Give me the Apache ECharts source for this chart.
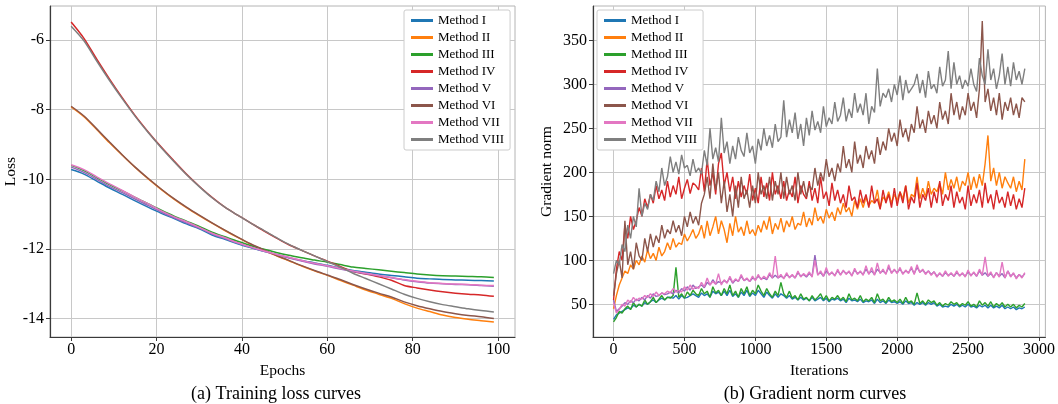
<!DOCTYPE html>
<html lang="en">
<head>
<meta charset="UTF-8">
<title>Training loss and gradient norm</title>
<style>html,body{margin:0;padding:0;background:#fff}</style>
</head>
<body>
<div id="main" style="width:1058px;height:404px"></div>
<script src="https://cdn.jsdelivr.net/npm/echarts@6/dist/echarts.min.js"></script>
<script>
var methods = ['Method I', 'Method II', 'Method III', 'Method IV', 'Method V', 'Method VI', 'Method VII', 'Method VIII'];
var colors = ['#1f77b4', '#ff7f0e', '#2ca02c', '#d62728', '#9467bd', '#8c564b', '#e377c2', '#7f7f7f'];

// (a) training loss, sampled every 3 epochs
var epochs = [0, 3, 6, 9, 12, 15, 18, 21, 24, 27, 30, 33, 36, 39, 42, 45, 48, 51, 54, 57, 60, 63, 66, 69, 72, 75, 78, 81, 84, 87, 90, 93, 96, 99];
var lossI = [-9.72, -9.85, -10.05, -10.25, -10.43, -10.62, -10.8, -10.97, -11.12, -11.28, -11.42, -11.6, -11.72, -11.85, -11.96, -12.06, -12.16, -12.25, -12.33, -12.4, -12.47, -12.55, -12.62, -12.67, -12.72, -12.76, -12.8, -12.84, -12.86, -12.88, -12.89, -12.9, -12.91, -12.92];
var lossII = [-7.92, -8.2, -8.57, -8.95, -9.31, -9.66, -9.98, -10.28, -10.56, -10.81, -11.04, -11.26, -11.47, -11.67, -11.86, -12.03, -12.19, -12.34, -12.49, -12.63, -12.76, -12.9, -13.04, -13.18, -13.3, -13.42, -13.57, -13.7, -13.8, -13.9, -13.97, -14.02, -14.06, -14.1];
var lossIII = [-9.6, -9.75, -9.95, -10.15, -10.33, -10.52, -10.7, -10.88, -11.05, -11.2, -11.35, -11.52, -11.65, -11.78, -11.9, -12.0, -12.1, -12.18, -12.25, -12.32, -12.38, -12.45, -12.52, -12.56, -12.6, -12.64, -12.68, -12.72, -12.75, -12.77, -12.78, -12.79, -12.8, -12.82];
var lossIV = [-5.48, -5.95, -6.55, -7.12, -7.66, -8.17, -8.63, -9.06, -9.46, -9.85, -10.2, -10.52, -10.8, -11.03, -11.25, -11.47, -11.68, -11.88, -12.04, -12.2, -12.35, -12.5, -12.65, -12.72, -12.8, -12.9, -13.05, -13.12, -13.18, -13.23, -13.27, -13.3, -13.32, -13.36];
var lossV = [-9.65, -9.8, -10.0, -10.2, -10.38, -10.57, -10.75, -10.93, -11.1, -11.25, -11.4, -11.57, -11.7, -11.83, -11.95, -12.06, -12.16, -12.26, -12.35, -12.43, -12.5, -12.58, -12.65, -12.71, -12.77, -12.83, -12.89, -12.94, -12.98, -13.0, -13.02, -13.03, -13.05, -13.07];
var lossVI = [-7.9, -8.18, -8.55, -8.93, -9.3, -9.65, -9.97, -10.27, -10.55, -10.8, -11.03, -11.25, -11.46, -11.66, -11.85, -12.02, -12.18, -12.33, -12.48, -12.62, -12.75, -12.88, -13.02, -13.15, -13.27, -13.38, -13.52, -13.63, -13.72, -13.8, -13.86, -13.91, -13.95, -14.0];
var lossVII = [-9.58, -9.72, -9.93, -10.13, -10.32, -10.52, -10.7, -10.9, -11.07, -11.22, -11.38, -11.55, -11.68, -11.82, -11.94, -12.05, -12.15, -12.24, -12.33, -12.41, -12.48, -12.56, -12.63, -12.7, -12.76, -12.82, -12.88, -12.93, -12.97, -12.99, -13.01, -13.02, -13.04, -13.05];
var lossVIII = [-5.6, -6.02, -6.6, -7.16, -7.69, -8.19, -8.65, -9.08, -9.48, -9.86, -10.21, -10.53, -10.8, -11.03, -11.25, -11.46, -11.67, -11.87, -12.04, -12.2, -12.36, -12.52, -12.7, -12.85, -13.0, -13.15, -13.3, -13.42, -13.52, -13.6, -13.66, -13.72, -13.77, -13.81];

// (b) gradient norm, sampled every 20 iterations
var iterations = [0, 20, 40, 60, 80, 100, 120, 140, 160, 180, 200, 220, 240, 260, 280, 300, 320, 340, 360, 380,
  400, 420, 440, 460, 480, 500, 520, 540, 560, 580, 600, 620, 640, 660, 680, 700, 720, 740, 760, 780,
  800, 820, 840, 860, 880, 900, 920, 940, 960, 980, 1000, 1020, 1040, 1060, 1080, 1100, 1120, 1140, 1160, 1180,
  1200, 1220, 1240, 1260, 1280, 1300, 1320, 1340, 1360, 1380, 1400, 1420, 1440, 1460, 1480, 1500, 1520, 1540, 1560, 1580,
  1600, 1620, 1640, 1660, 1680, 1700, 1720, 1740, 1760, 1780, 1800, 1820, 1840, 1860, 1880, 1900, 1920, 1940, 1960, 1980,
  2000, 2020, 2040, 2060, 2080, 2100, 2120, 2140, 2160, 2180, 2200, 2220, 2240, 2260, 2280, 2300, 2320, 2340, 2360, 2380,
  2400, 2420, 2440, 2460, 2480, 2500, 2520, 2540, 2560, 2580, 2600, 2620, 2640, 2660, 2680, 2700, 2720, 2740, 2760, 2780,
  2800, 2820, 2840, 2860, 2880, 2900];
var gradI = [33, 38, 40, 42, 44, 46, 45, 49, 47, 50,
  48, 52, 50, 53, 55, 52, 55, 57, 55, 58,
  58, 57, 60, 56, 60, 57, 58, 60, 62, 60,
  58, 63, 60, 62, 58, 65, 62, 64, 60, 65,
  60, 66, 59, 62, 58, 64, 60, 66, 59, 63,
  60, 66, 62, 58, 64, 60, 57, 62, 58, 62,
  60, 57, 60, 56, 58, 55, 58, 55, 57, 54,
  58, 54, 56, 58, 54, 57, 53, 56, 55, 57,
  54, 56, 52, 57, 54, 55, 53, 56, 52, 54,
  53, 55, 51, 56, 52, 54, 51, 55, 52, 53,
  51, 53, 50, 54, 51, 52, 49, 52, 50, 52,
  49, 52, 50, 52, 48, 50, 47, 48, 47, 50,
  48, 50, 47, 49, 47, 50, 47, 48, 46, 49,
  47, 49, 46, 49, 46, 48, 46, 49, 45, 47,
  45, 47, 44, 46, 45, 47];
var gradII = [45, 60, 72, 80, 88, 85, 95, 90, 100, 95,
  105, 98, 112, 102, 108, 100, 115, 105, 110, 120,
  112, 125, 115, 120, 118, 130, 122, 128, 135, 125,
  130, 140, 125, 145, 128, 138, 150, 130, 145, 135,
  120, 142, 128, 150, 132, 138, 128, 145, 130, 135,
  128, 140, 132, 145, 135, 150, 130, 142, 135, 148,
  132, 145, 138, 150, 135, 142, 140, 155, 138, 148,
  140, 160, 145, 150, 142, 158, 148, 155, 145, 160,
  152, 165, 155, 160, 150, 168, 158, 170, 160, 172,
  162, 168, 165, 180, 160, 172, 168, 178, 165, 175,
  168, 178, 170, 185, 165, 175, 172, 195, 170, 182,
  172, 190, 175, 182, 178, 188, 175, 200, 180, 192,
  182, 195, 178, 190, 185, 200, 180, 195, 182, 198,
  185, 210, 242, 190, 205, 185, 200, 182, 195, 188,
  182, 195, 178, 190, 180, 215];
var gradIII = [30, 35, 42, 40, 45, 48, 44, 52, 47, 50,
  48, 55, 50, 53, 58, 52, 56, 60, 55, 58,
  57, 60, 92, 58, 62, 57, 64, 60, 66, 62,
  60, 68, 62, 65, 58, 70, 63, 66, 60, 68,
  62, 72, 60, 65, 58, 68, 62, 70, 60, 66,
  62, 72, 65, 60, 68, 62, 58, 65, 60, 75,
  62, 58, 65, 57, 60, 55, 62, 56, 58, 54,
  60, 55, 58, 62, 55, 60, 54, 58, 56, 60,
  55, 58, 53, 62, 55, 57, 54, 60, 53, 56,
  54, 58, 52, 62, 54, 56, 52, 58, 53, 55,
  52, 56, 51, 58, 52, 54, 50, 63, 51, 54,
  50, 55, 52, 54, 49, 52, 48, 51, 49, 53,
  50, 52, 48, 51, 49, 53, 48, 50, 47, 54,
  49, 52, 48, 53, 47, 51, 48, 52, 47, 50,
  47, 50, 46, 49, 47, 51];
var gradIV = [55, 90, 110, 100, 140, 125, 150, 135, 145, 160,
  150, 170, 160, 175, 165, 185, 170, 180, 168, 190,
  172, 185, 175, 195, 170, 182, 192, 176, 188, 185,
  180, 205, 178, 215, 185, 200, 175, 210, 222, 185,
  200, 178, 195, 170, 190, 172, 185, 175, 198, 168,
  182, 165, 195, 172, 188, 168, 200, 175, 185, 170,
  190, 168, 180, 172, 195, 165, 185, 175, 170, 190,
  168, 182, 165, 195, 170, 178, 162, 188, 168, 180,
  165, 175, 160, 185, 168, 172, 160, 180, 165, 175,
  160, 185, 165, 170, 158, 180, 165, 175, 160, 182,
  162, 178, 165, 185, 158, 172, 165, 188, 160, 175,
  168, 182, 160, 178, 165, 190, 162, 175, 168, 185,
  160, 178, 165, 172, 158, 185, 162, 175, 165, 180,
  160, 188, 165, 175, 158, 180, 165, 172, 160, 178,
  162, 175, 158, 170, 160, 182];
var gradV = [55, 42, 45, 48, 52, 50, 54, 52, 56, 54,
  58, 55, 60, 57, 62, 59, 60, 63, 61, 62,
  64, 62, 66, 63, 68, 65, 70, 66, 72, 68,
  70, 72, 69, 75, 72, 78, 73, 76, 74, 77,
  75, 80, 74, 78, 76, 82, 77, 79, 76, 80,
  78, 82, 79, 80, 78, 84, 80, 83, 80, 82,
  80, 84, 81, 83, 80, 86, 82, 84, 81, 85,
  82, 106, 84, 86, 82, 88, 84, 86, 83, 88,
  84, 88, 85, 87, 83, 89, 85, 87, 84, 90,
  85, 88, 84, 90, 86, 88, 85, 92, 86, 89,
  86, 90, 85, 88, 86, 91, 85, 92, 87, 89,
  85, 88, 84, 87, 82, 85, 82, 86, 83, 85,
  82, 86, 83, 85, 82, 87, 83, 86, 82, 88,
  83, 86, 82, 85, 81, 86, 82, 85, 80, 88,
  82, 85, 80, 84, 81, 85];
var gradVI = [60, 85, 100, 80, 145, 95, 110, 90, 120, 105,
  100, 125, 110, 130, 115, 128, 120, 140, 125, 135,
  130, 145, 132, 140, 128, 150, 138, 155, 142, 150,
  140, 165, 175, 195, 170, 210, 180, 200, 165, 190,
  155, 175, 150, 185, 160, 195, 170, 180, 160, 185,
  165, 200, 175, 185, 170, 195, 168, 190, 175, 200,
  170, 195, 175, 185, 168, 200, 175, 190, 172, 185,
  180, 205, 185, 200, 190, 215, 195, 205, 190, 210,
  200, 230, 205, 215, 200, 235, 210, 220, 205, 230,
  215, 225, 210, 240, 220, 235, 225, 250, 235, 245,
  230, 260, 240, 250, 235, 255, 245, 275, 250, 260,
  245, 270, 255, 265, 250, 280, 260, 270, 255, 290,
  265, 280, 260, 275, 265, 290, 270, 280, 262, 295,
  372, 280, 295, 270, 285, 265, 290, 260, 280, 270,
  285, 265, 278, 262, 285, 280];
var gradVII = [52, 40, 44, 50, 48, 55, 52, 58, 54, 57,
  56, 60, 58, 62, 59, 64, 60, 63, 62, 65,
  63, 68, 64, 66, 64, 70, 66, 72, 67, 70,
  68, 75, 70, 80, 72, 76, 73, 85, 72, 78,
  74, 82, 75, 79, 76, 84, 77, 80, 76, 82,
  77, 84, 78, 82, 79, 86, 80, 105, 80, 84,
  79, 86, 80, 84, 80, 88, 81, 85, 82, 87,
  81, 100, 83, 88, 82, 92, 83, 87, 82, 90,
  83, 89, 84, 88, 82, 91, 84, 88, 83, 94,
  84, 92, 83, 97, 85, 90, 84, 95, 85, 90,
  85, 92, 84, 89, 85, 93, 84, 95, 86, 90,
  84, 88, 83, 87, 81, 86, 82, 88, 82, 86,
  82, 88, 82, 86, 81, 89, 82, 87, 82, 90,
  83, 104, 82, 87, 80, 86, 81, 98, 80, 88,
  81, 86, 79, 84, 80, 86];
var gradVIII = [85, 100, 95, 118, 110, 140, 125, 150, 138, 182,
  150, 165, 158, 175, 168, 190, 178, 205, 185, 195,
  218, 200, 212, 198, 220, 205, 208, 196, 215, 200,
  205, 198, 225, 208, 250, 215, 228, 212, 262, 222,
  235, 210, 230, 215, 240, 225, 218, 245, 222, 230,
  210, 238, 225, 250, 230, 242, 228, 255, 235, 240,
  282, 240, 260, 245, 268, 238, 255, 230, 262, 242,
  270, 248, 258, 245, 275, 252, 262, 255, 280, 258,
  265, 285, 258, 272, 262, 290, 268, 278, 265, 290,
  255, 275, 268, 318, 275, 290, 285, 295, 280, 300,
  288, 310, 282, 305, 290, 295, 300, 312, 290, 305,
  285, 315, 295, 300, 290, 320, 298, 305, 338, 295,
  325, 300, 310, 295, 305, 298, 318, 300, 292, 330,
  310, 300, 340, 305, 318, 295, 310, 335, 300, 320,
  298, 325, 305, 315, 300, 318];

var epochTicks = [0, 20, 40, 60, 80, 100];
var lossTicks = [-14, -12, -10, -8, -6];
var iterTicks = [0, 500, 1000, 1500, 2000, 2500, 3000];
var gradTicks = [50, 100, 150, 200, 250, 300, 350];

var lossData = [lossI, lossII, lossIII, lossIV, lossV, lossVI, lossVII, lossVIII];
var gradData = [gradI, gradII, gradIII, gradIV, gradV, gradVI, gradVII, gradVIII];

var serif = '"Liberation Serif", "DejaVu Serif", serif';

function makeAxis(gridIndex, min, max, ticks, name, nameGap, isY) {
    return {
        type: 'value',
        gridIndex: gridIndex,
        min: min,
        max: max,
        name: name,
        nameLocation: 'middle',
        nameGap: nameGap,
        nameTextStyle: { fontFamily: serif, fontSize: 15.5, color: '#000' },
        axisLine: { show: true, onZero: false, lineStyle: { color: '#3a3a3a', width: 1.2 } },
        axisTick: { show: true, inside: false, length: 4, customValues: ticks, lineStyle: { color: '#3a3a3a', width: 1 } },
        axisLabel: {
            customValues: ticks,
            formatter: function (v) { return String(v); },
            fontFamily: serif, fontSize: 16, color: '#000', margin: isY ? 6 : 5
        },
        splitLine: { show: true, lineStyle: { color: '#c8c8c8', width: 1 } }
    };
}

function makeLegend(left) {
    return {
        data: methods,
        orient: 'vertical',
        left: left,
        top: 10,
        icon: 'rect',
        itemWidth: 22,
        itemHeight: 3,
        itemGap: 2,
        itemTextGap: 5,
        padding: [3, 6, 3, 7],
        backgroundColor: '#fff',
        borderColor: '#cccccc',
        borderWidth: 1,
        borderRadius: 2,
        textStyle: { fontFamily: serif, fontSize: 13, color: '#000', lineHeight: 15 }
    };
}

var series = [];
methods.forEach(function (m, i) {
    series.push({
        name: m,
        type: 'line',
        xAxisIndex: 0,
        yAxisIndex: 0,
        data: epochs.map(function (e, k) { return [e, lossData[i][k]]; }),
        showSymbol: false,
        smooth: 0.3,
        lineStyle: { width: 1.5, color: colors[i] },
        itemStyle: { color: colors[i] }
    });
});
methods.forEach(function (m, i) {
    series.push({
        name: m,
        type: 'line',
        xAxisIndex: 1,
        yAxisIndex: 1,
        data: iterations.map(function (t, k) { return [t, gradData[i][k]]; }),
        showSymbol: false,
        lineStyle: { width: 1.4, color: colors[i] },
        itemStyle: { color: colors[i] }
    });
});

var myChart = echarts.init(document.getElementById('main'));
var option = {
    animation: false,
    backgroundColor: '#fff',
    color: colors,
    grid: [
        { left: 50, top: 6, width: 465, height: 331, show: true, borderColor: '#b4b4b4', borderWidth: 1, backgroundColor: 'transparent' },
        { left: 593, top: 6, width: 458, height: 331, show: true, borderColor: '#b4b4b4', borderWidth: 1, backgroundColor: 'transparent' }
    ],
    xAxis: [
        makeAxis(0, -4.95, 103.95, epochTicks, 'Epochs', 24, false),
        makeAxis(1, -145, 3045, iterTicks, 'Iterations', 24, false)
    ],
    yAxis: [
        makeAxis(0, -14.53, -5.02, lossTicks, 'Loss', 30, true),
        makeAxis(1, 12.9, 389.1, gradTicks, 'Gradient norm', 38, true)
    ],
    legend: [makeLegend(404), makeLegend(597)],
    graphic: [
        { type: 'text', x: 276, y: 394, style: { text: '(a) Training loss curves', font: '18px ' + serif, fill: '#000', align: 'center', verticalAlign: 'middle' } },
        { type: 'text', x: 815, y: 394, style: { text: '(b) Gradient norm curves', font: '18px ' + serif, fill: '#000', align: 'center', verticalAlign: 'middle' } }
    ],
    series: series
};
myChart.setOption(option);
</script>
</body>
</html>
